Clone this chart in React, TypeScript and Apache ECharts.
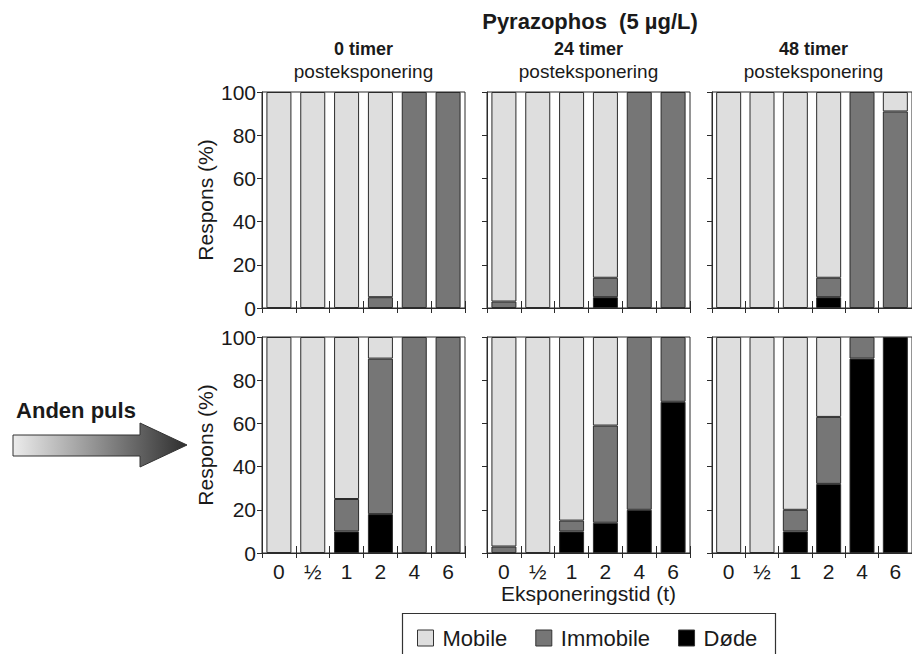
import React, { useEffect, useRef } from "react";
import * as echarts from "echarts";

// Exposure times on the x axis
const categories = ["0", "½", "1", "2", "4", "6"];
// Post-exposure times, one panel column each
const timeTitles = ["0 timer", "24 timer", "48 timer"];
const subTitle = "posteksponering";
const seriesNames = ["Mobile", "Immobile", "Døde"];

// Upper row: one pulse (percent of animals per exposure time, per panel)
const mobileFirst = [
  [100, 100, 100, 95, 0, 0],
  [97, 100, 100, 86, 0, 0],
  [100, 100, 100, 86, 0, 9],
];
const immobileFirst = [
  [0, 0, 0, 5, 100, 100],
  [3, 0, 0, 9, 100, 100],
  [0, 0, 0, 9, 100, 91],
];
const dodeFirst = [
  [0, 0, 0, 0, 0, 0],
  [0, 0, 0, 5, 0, 0],
  [0, 0, 0, 5, 0, 0],
];

// Lower row: after the second pulse
const mobileSecond = [
  [100, 100, 75, 10, 0, 0],
  [97, 100, 85, 41, 0, 0],
  [100, 100, 80, 37, 0, 0],
];
const immobileSecond = [
  [0, 0, 15, 72, 100, 100],
  [3, 0, 5, 45, 80, 30],
  [0, 0, 10, 31, 10, 0],
];
const dodeSecond = [
  [0, 0, 10, 18, 0, 0],
  [0, 0, 10, 14, 20, 70],
  [0, 0, 10, 32, 90, 100],
];

const FONT = "Liberation Sans, Arial, sans-serif";
const INK = "#1a1a1a";
const EDGE = "#2b2b2b";
const COLORS: Record<string, string> = {
  Mobile: "#dedede",
  Immobile: "#767676",
  Døde: "#000000",
};

const colLeft = [262, 487, 712];
const rowTop = [92, 337];
const gridW = 203;
const gridH = 216;

function buildOption() {
  const grid: any[] = [];
  const xAxis: any[] = [];
  const yAxis: any[] = [];
  const series: any[] = [];

  const rows = [
    { mobile: mobileFirst, immobile: immobileFirst, dode: dodeFirst },
    { mobile: mobileSecond, immobile: immobileSecond, dode: dodeSecond },
  ];

  rows.forEach((row, r) => {
    for (let c = 0; c < 3; c++) {
      const g = r * 3 + c;
      grid.push({
        left: colLeft[c],
        top: rowTop[r],
        width: gridW,
        height: gridH,
        show: true,
        borderColor: EDGE,
        borderWidth: 1,
        backgroundColor: "transparent",
      });
      // main category axis: outward ticks and labels
      xAxis.push({
        gridIndex: g,
        type: "category",
        position: "bottom",
        data: categories,
        axisLine: { show: true, lineStyle: { color: EDGE, width: 1 } },
        axisTick: { show: true, inside: false, length: 5, lineStyle: { color: EDGE } },
        axisLabel: {
          show: r === 1,
          fontSize: 21,
          fontFamily: FONT,
          color: INK,
          margin: 8,
        },
        name: r === 1 && c === 1 ? "Eksponeringstid (t)" : "",
        nameLocation: "middle",
        nameGap: 30,
        nameTextStyle: { fontSize: 21, fontFamily: FONT, color: INK },
        splitLine: { show: false },
      });
      // companion axis carrying the inward half of each tick
      xAxis.push({
        gridIndex: g,
        type: "category",
        position: "bottom",
        data: categories,
        axisLine: { show: false },
        axisTick: { show: true, inside: true, length: 7, lineStyle: { color: EDGE } },
        axisLabel: { show: false },
        splitLine: { show: false },
      });
      yAxis.push({
        gridIndex: g,
        type: "value",
        min: 0,
        max: 100,
        interval: 20,
        axisLine: { show: true, lineStyle: { color: EDGE, width: 1 } },
        axisTick: { show: true, inside: false, length: 5, lineStyle: { color: EDGE } },
        axisLabel: {
          show: c === 0,
          fontSize: 21,
          fontFamily: FONT,
          color: INK,
          margin: 6,
        },
        splitLine: { show: false },
        name: c === 0 ? "Respons (%)" : "",
        nameLocation: "middle",
        nameRotate: 90,
        nameGap: 46,
        nameTextStyle: { fontSize: 21, fontFamily: FONT, color: INK },
      });

      const stacks: [string, number[]][] = [
        ["Døde", row.dode[c]],
        ["Immobile", row.immobile[c]],
        ["Mobile", row.mobile[c]],
      ];
      stacks.forEach(([name, values]) => {
        series.push({
          type: "bar",
          name,
          xAxisIndex: g * 2,
          yAxisIndex: g,
          stack: "panel" + g,
          barWidth: 25,
          data: values.map((v) => (v === 0 ? null : v)),
          itemStyle: {
            color: COLORS[name],
            borderColor: EDGE,
            borderWidth: 1,
          },
          emphasis: { disabled: true },
        });
      });
    }
  });

  const text = (
    content: string,
    x: number,
    y: number,
    size: number,
    bold: boolean
  ) => ({
    type: "text",
    x,
    y,
    style: {
      text: content,
      fill: INK,
      font: `${bold ? "bold " : ""}${size}px ${FONT}`,
      fontSize: size,
      fontWeight: bold ? "bold" : "normal",
      fontFamily: FONT,
      textAlign: "center",
      textVerticalAlign: "middle",
      align: "center",
      verticalAlign: "middle",
    },
  });

  const graphic: any[] = [
    text("Pyrazophos  (5 µg/L)", 590, 21, 22, true),
    ...timeTitles.map((t, i) => text(t, colLeft[i] + gridW / 2, 49, 18, true)),
    ...timeTitles.map((_, i) => text(subTitle, colLeft[i] + gridW / 2, 71, 19, false)),
    text("Anden puls", 76, 410, 22, true),
    {
      type: "polygon",
      shape: {
        points: [
          [13, 435],
          [140, 435],
          [140, 423],
          [187, 445],
          [140, 467],
          [140, 456],
          [13, 456],
        ],
      },
      style: {
        fill: new echarts.graphic.LinearGradient(0, 0, 1, 0, [
          { offset: 0, color: "#ececec" },
          { offset: 1, color: "#2e2e2e" },
        ]),
        stroke: "#333",
        lineWidth: 1,
      },
    },
    {
      type: "rect",
      shape: { x: 402.5, y: 613.5, width: 373, height: 60 },
      style: { fill: "none", stroke: "#333", lineWidth: 1.2 },
    },
  ];

  return {
    animation: false,
    backgroundColor: "#ffffff",
    textStyle: { fontFamily: FONT },
    grid,
    xAxis,
    yAxis,
    series,
    legend: {
      data: seriesNames,
      left: 417,
      top: 627,
      padding: 0,
      itemWidth: 16,
      itemHeight: 16,
      itemGap: 28,
      icon: "rect",
      selectedMode: false,
      itemStyle: { borderColor: "#333", borderWidth: 1 },
      textStyle: {
        fontSize: 22,
        fontFamily: FONT,
        color: INK,
        padding: [0, 0, 0, 4],
      },
    },
    graphic,
  };
}

export default function App() {
  const ref = useRef<HTMLDivElement>(null);

  useEffect(() => {
    if (!ref.current) return;
    const chart = echarts.init(ref.current, undefined, { renderer: "svg" });
    chart.setOption(buildOption() as any);
    return () => chart.dispose();
  }, []);

  return (
    <div
      ref={ref}
      style={{
        position: "fixed",
        left: 0,
        top: 0,
        width: 912,
        height: 654,
        background: "#fff",
      }}
    />
  );
}
